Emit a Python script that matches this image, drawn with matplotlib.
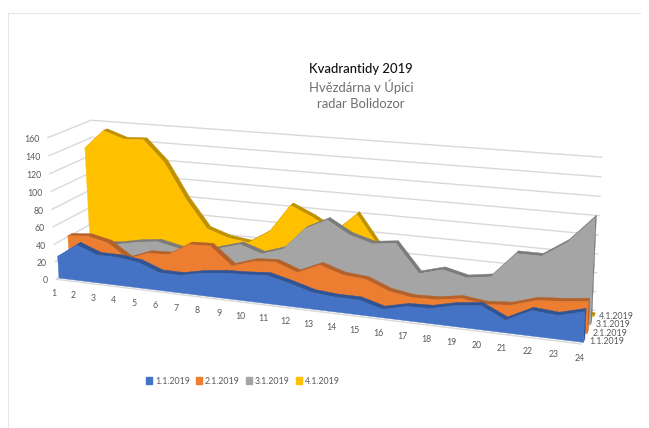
import numpy as np
import matplotlib
matplotlib.use('Agg')
import matplotlib.pyplot as plt
from matplotlib.patches import Patch
from mpl_toolkits.mplot3d.art3d import Poly3DCollection, Line3DCollection

# values
hours = list(range(1, 25))
val_1 = [25, 41, 32, 32, 29, 20, 20, 25, 28, 29, 31, 25, 18, 16, 16, 9, 15, 16, 22, 25, 13, 26, 24, 31]
val_2 = [42, 44, 39, 23, 32, 33, 47, 48, 28, 36, 38, 29, 40, 32, 30, 20, 16, 17, 21, 18, 20, 28, 30, 33]
val_3 = [25, 28, 30, 35, 38, 33, 30, 38, 45, 37, 45, 70, 82, 68, 61, 64, 34, 41, 35, 39, 66, 66, 83, 110]
val_4 = [132, 154, 146, 147, 123, 83, 51, 43, 40, 55, 87, 76, 62, 84, 50, 30, 15, 10, 8, 5, 6, 5, 4, 1]
series_names = ['1.1.2019', '2.1.2019', '3.1.2019', '4.1.2019']
value_ticks = [0, 20, 40, 60, 80, 100, 120, 140, 160]

colors = ['#4472C4', '#ED7D31', '#A5A5A5', '#FFC000']
dark = ['#2F5597', '#B5622A', '#7B7B7B', '#BF9000']
depths = [0.06, 0.31, 0.56, 0.81]
ribbon = 0.1
text_grey = '#595959'

plt.rcParams['font.family'] = ['Lato', 'DejaVu Sans']

# points of the 3D box (hour, depth, value) -> pixel in the picture
box_3d = [(1, 0, 0), (1, 0, 160), (1, 1, 160), (1, 1, 0), (24, 0, 0), (24, 1, 0), (24, 1, 160), (12, 0, 0),
          (1, 1, 80), (24, 1, 80), (6, 0, 0), (18, 0, 0)]
box_px = [(55, 284), (45, 136), (93, 125), (97, 248), (580, 341), (595, 316), (603, 155), (288, 308),
          (94, 186), (599, 235), (160, 292), (430, 324)]


def fit_camera(pts3d, pts2d):
    T3 = np.diag([1 / 24, 1, 1 / 160, 1])
    T2 = np.diag([1 / 600, 1 / 400, 1])
    rows = []
    for p, q in zip(pts3d, pts2d):
        X = T3 @ np.array([*p, 1.0])
        u, v, _ = T2 @ np.array([*q, 1.0])
        rows.append(np.r_[X, 0, 0, 0, 0, -u * X])
        rows.append(np.r_[0, 0, 0, 0, X, -v * X])
    P = np.linalg.svd(np.array(rows))[2][-1].reshape(3, 4)
    return np.linalg.inv(T2) @ P @ T3


camera = fit_camera(box_3d, box_px)
center = np.linalg.svd(camera)[2][-1]


def label_at(h, d, v, text, dx=0, dy=0, **kw):
    # text sits in the figure, at the pixel its 3D anchor projects to
    px = camera @ np.array([h, d, v, 1.0])
    x = px[0] / px[2] + dx
    y = px[1] / px[2] + dy
    fig.text(x / 649, 1 - y / 428, text, va='center', fontsize=6.3, color=text_grey, **kw)


fig = plt.figure(figsize=(6.49, 4.28), dpi=100)
ax = fig.add_axes([0, 0, 1, 1], projection='3d')
ax.set_axis_off()
ax.computed_zorder = False
ax.apply_aspect = lambda position=None: None


def get_proj():
    flip = np.array([[1, 0, 0], [0, -1, 428], [0, 0, 1.0]])
    to_data = ax.transData.inverted().get_matrix()
    H = to_data @ flip @ camera
    return np.vstack([H[0], H[1], center, H[2]])


ax.get_proj = get_proj

# walls
grid = [[(1, 0, v), (1, 1, v), (24, 1, v)] for v in value_ticks]
grid.append([(1, 0, 0), (24, 0, 0)])
ax.add_collection3d(Line3DCollection(grid, colors='#D9D9D9', linewidths=1, zorder=1), autolim=False)
for v in value_ticks:
    label_at(1, 0, v, str(v), dx=-8, dy=1.5, ha='right')

# back series first so the front ones cover them
all_vals = [val_1, val_2, val_3, val_4]
for i in [3, 2, 1, 0]:
    d = depths[i]
    vals = all_vals[i]
    z = 10 + (3 - i) * 5
    side = [[(24, d, 0), (24, d + ribbon, 0), (24, d + ribbon, vals[-1]), (24, d, vals[-1])]]
    ax.add_collection3d(Poly3DCollection(side, facecolors=dark[i], edgecolors=dark[i], linewidths=0.3, zorder=z))
    for k in range(len(hours) - 1):
        q = [(hours[k], d, vals[k]), (hours[k + 1], d, vals[k + 1]),
             (hours[k + 1], d + ribbon, vals[k + 1]), (hours[k], d + ribbon, vals[k])]
        ax.add_collection3d(Poly3DCollection([q], facecolors=dark[i], edgecolors=dark[i], linewidths=0.3, zorder=z + 1))
    front = [(h, d, v) for h, v in zip(hours, vals)] + [(24, d, 0), (1, d, 0)]
    ax.add_collection3d(Poly3DCollection([front], facecolors=colors[i], edgecolors=colors[i], linewidths=0.3, zorder=z + 2))

for h in hours:
    label_at(h, 0, 0, str(h), dx=-2, dy=14, ha='center')
for i, name in enumerate(series_names):
    label_at(24, depths[i], 0, name, dx=6, ha='left')

fig.text(361 / 649, 1 - 69 / 428, 'Kvadrantidy 2019', ha='center', va='center', fontsize=9.4, color='#111111', fontweight='medium')
fig.text(361 / 649, 1 - 87 / 428, 'Hvězdárna v Úpici', ha='center', va='center', fontsize=9.4, color='#6f6f6f')
fig.text(361 / 649, 1 - 104 / 428, 'radar Bolidozor', ha='center', va='center', fontsize=9.4, color='#6f6f6f')

handles = [Patch(color=c, label=n) for c, n in zip(colors, series_names)]
fig.legend(handles=handles, ncol=4, loc='center', bbox_to_anchor=(243 / 649, 1 - 381 / 428), frameon=False,
           fontsize=6.3, handlelength=0.7, handleheight=0.7, handletextpad=0.3, columnspacing=0.75, labelcolor=text_grey)

fig.add_artist(plt.Line2D([8 / 649, 8 / 649, 640 / 649], [0, 1 - 13 / 428, 1 - 13 / 428], color='#E6E6E6', lw=0.8))

fig.savefig('out.png', dpi=100)
